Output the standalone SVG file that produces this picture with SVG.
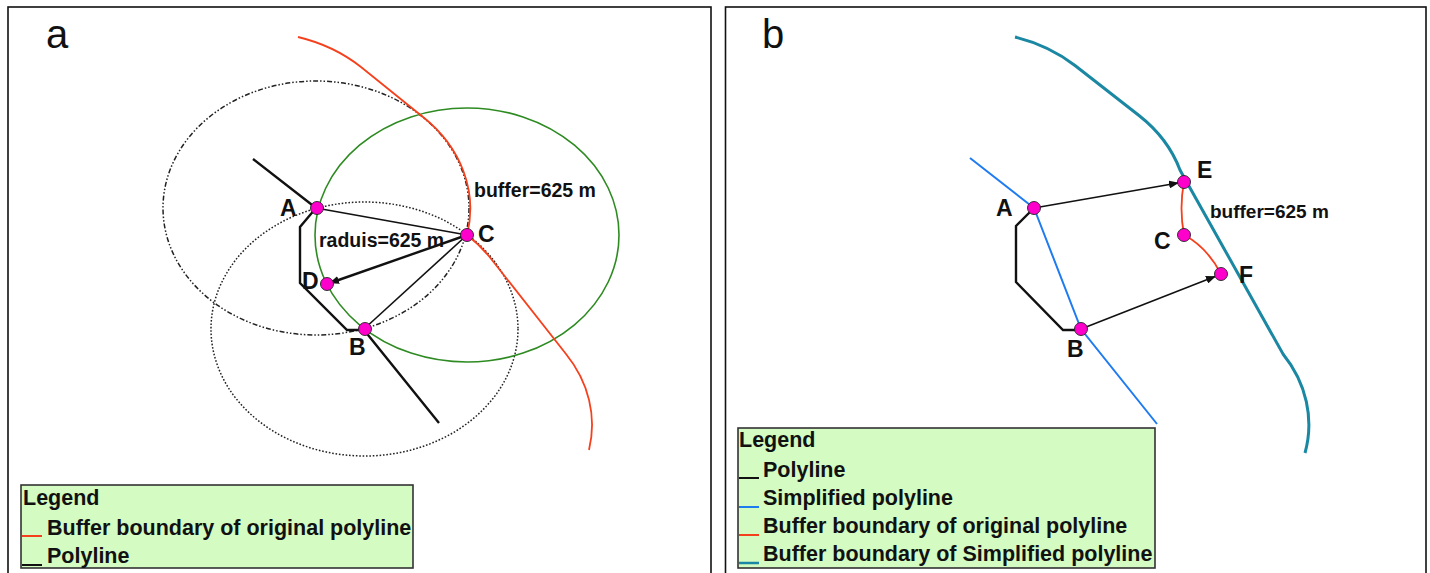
<svg xmlns="http://www.w3.org/2000/svg" width="1430" height="573" viewBox="0 0 1430 573">
<style>
.frame{fill:#fff;stroke:#111;stroke-width:1.6}
.pt{fill:#ff00cc;stroke:#222;stroke-width:0.9}
.lbl{font-family:"Liberation Sans",Arial,sans-serif;font-weight:bold;font-size:23px;fill:#111}
.txt{font-family:"Liberation Sans",Arial,sans-serif;font-weight:bold;font-size:19px;fill:#111}
.panel{font-family:"Liberation Sans",Arial,sans-serif;font-size:40px;fill:#111}
.leg{fill:#d3fbc2;stroke:#333;stroke-width:1.6}
.legt{font-family:"Liberation Sans",Arial,sans-serif;font-weight:bold;font-size:21.5px;fill:#111}
.poly{fill:none;stroke:#111;stroke-width:2.4;stroke-linejoin:miter}
.thin{fill:none;stroke:#111;stroke-width:1.6}
.red{fill:none;stroke:#f5401c;stroke-width:1.8}
.teal{fill:none;stroke:#1a87a3;stroke-width:3}
.blue{fill:none;stroke:#1f7bf0;stroke-width:2}
.green{fill:none;stroke:#2e8b22;stroke-width:1.6}
.dd{fill:none;stroke:#222;stroke-width:1.5;stroke-dasharray:5 2 1.5 2 1.5 2}
.dot{fill:none;stroke:#222;stroke-width:1.5;stroke-dasharray:1.6 1.8}
</style>
<defs>
<marker id="arr" viewBox="0 0 10 8" refX="9" refY="4" markerWidth="10" markerHeight="8" markerUnits="userSpaceOnUse" orient="auto">
<path d="M0,0 L10,4 L0,8 Z" fill="#111"/>
</marker>
</defs>

<!-- frames -->
<rect class="frame" x="8" y="7" width="703" height="575"/>
<rect class="frame" x="725.5" y="7" width="700.5" height="575"/>
<text class="panel" x="46" y="48">a</text>
<text class="panel" x="762" y="48">b</text>

<!-- panel a: circles and curves -->
<g id="a-shapes">
<ellipse class="dd" cx="316" cy="208" rx="153" ry="127"/>
<ellipse class="dot" cx="364.5" cy="329" rx="153.5" ry="127"/>
<ellipse class="green" cx="467" cy="235" rx="152" ry="127"/>
<path class="red" d="M298,37 A153,127 0 0 1 361,67 L423,117 A153,127 0 0 1 467,235 A153,127 0 0 1 492,260 L566,354 A153,127 0 0 1 589,450"/>
<path class="poly" d="M253,159 L316,208 L300,227 L300,283 L347,330 L364,330 L439,423"/>
</g>

<g id="a-connectors">
<line class="thin" x1="316" y1="208" x2="467" y2="235"/>
<line class="thin" x1="467" y1="235" x2="364" y2="329"/>
<line class="poly" x1="467" y1="235" x2="330" y2="283" marker-end="url(#arr)"/>
</g>

<g id="a-node-A"><circle class="pt" cx="317" cy="208" r="6.5"/><text class="lbl" x="280" y="216">A</text></g>
<g id="a-node-C"><circle class="pt" cx="467" cy="235" r="6.5"/><text class="lbl" x="478" y="242">C</text></g>
<g id="a-node-D"><circle class="pt" cx="327" cy="284" r="6.5"/><text class="lbl" x="302" y="289">D</text></g>
<g id="a-node-B"><circle class="pt" cx="365" cy="329" r="6.5"/><text class="lbl" x="349" y="355">B</text></g>
<text class="txt" x="319" y="247" style="font-size:19.5px">raduis=625 m</text>
<text class="txt" x="474" y="197" style="font-size:19.5px">buffer=625 m</text>

<g id="a-legend">
<rect class="leg" x="21" y="485" width="392" height="83"/>
<text class="legt" x="23" y="505">Legend</text>
<line x1="22" y1="536" x2="42" y2="536" stroke="#f5401c" stroke-width="2"/>
<text class="legt" x="47" y="535">Buffer boundary of original polyline</text>
<line x1="22" y1="565" x2="42" y2="565" stroke="#111" stroke-width="2"/>
<text class="legt" x="47" y="563">Polyline</text>
</g>

<!-- panel b -->
<g id="b-shapes">
<path class="teal" d="M1015,37 A153,127 0 0 1 1075,65.5 L1139,115.5 A153,127 0 0 1 1180,170 L1283,354 A153,127 0 0 1 1305,453"/>
<path class="blue" d="M970,158 L1034,208 L1081,329 L1157,424"/>
<path class="poly" d="M1034,208 L1016,226 L1016,282 L1063,330 L1081,330"/>
<path class="red" d="M1184,182 Q1179,208 1184,235 Q1207,247 1221,274"/>
</g>

<g id="b-connectors">
<line class="thin" x1="1034" y1="208" x2="1178" y2="183" marker-end="url(#arr)"/>
<line class="thin" x1="1081" y1="329" x2="1215" y2="276.5" marker-end="url(#arr)"/>
</g>

<g id="b-node-A"><circle class="pt" cx="1034" cy="208" r="6.5"/><text class="lbl" x="996" y="216">A</text></g>
<g id="b-node-B"><circle class="pt" cx="1081" cy="329" r="6.5"/><text class="lbl" x="1067" y="357">B</text></g>
<g id="b-node-E"><circle class="pt" cx="1184" cy="182" r="6.5"/><text class="lbl" x="1197" y="178">E</text></g>
<g id="b-node-C"><circle class="pt" cx="1184" cy="235" r="6.5"/><text class="lbl" x="1154" y="249">C</text></g>
<g id="b-node-F"><circle class="pt" cx="1221" cy="274" r="6.5"/><text class="lbl" x="1239" y="283">F</text></g>
<text class="txt" x="1210" y="218">buffer=625 m</text>

<g id="b-legend">
<rect class="leg" x="738" y="428" width="417" height="140"/>
<text class="legt" x="739" y="447">Legend</text>
<line x1="739" y1="478" x2="759" y2="478" stroke="#111" stroke-width="2"/>
<text class="legt" x="763" y="477">Polyline</text>
<line x1="739" y1="507" x2="759" y2="507" stroke="#1f7bf0" stroke-width="2"/>
<text class="legt" x="763" y="505">Simplified polyline</text>
<line x1="739" y1="535" x2="759" y2="535" stroke="#f5401c" stroke-width="2"/>
<text class="legt" x="763" y="533">Buffer boundary of original polyline</text>
<line x1="739" y1="563" x2="759" y2="563" stroke="#1a87a3" stroke-width="2.5"/>
<text class="legt" x="763" y="561">Buffer boundary of Simplified polyline</text>
</g>
</svg>
